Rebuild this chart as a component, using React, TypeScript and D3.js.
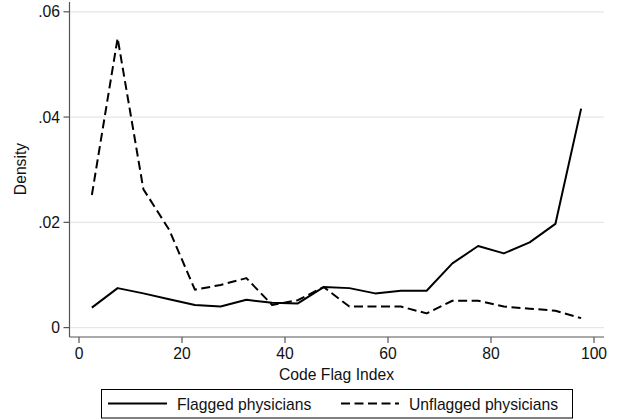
import React from "react";
import * as d3 from "d3";

const xValues = [2.5, 7.5, 12.5, 17.5, 22.5, 27.5, 32.5, 37.5, 42.5, 47.5, 52.5, 57.5, 62.5, 67.5, 72.5, 77.5, 82.5, 87.5, 92.5, 97.5];
const flagged = [0.0038, 0.0075, 0.0065, 0.0054, 0.0043, 0.004, 0.0053, 0.0047, 0.0046, 0.0077, 0.0075, 0.0065, 0.007, 0.007, 0.0122, 0.0155, 0.0141, 0.0162, 0.0197, 0.0416];
const unflagged = [0.0252, 0.055, 0.0263, 0.0186, 0.0072, 0.0081, 0.0094, 0.0043, 0.0052, 0.0077, 0.004, 0.004, 0.004, 0.0027, 0.0051, 0.0051, 0.004, 0.0036, 0.0032, 0.0018];
const xTicks = [0, 20, 40, 60, 80, 100];
const yTicks = [0, 0.02, 0.04, 0.06];
const yTickLabels = ["0", ".02", ".04", ".06"];
const seriesNames = ["Flagged physicians", "Unflagged physicians"];

const W = 620;
const H = 420;
const FONT = "'Liberation Sans', Arial, sans-serif";
const FS = 15.7;

export default function App() {
  const x = d3.scaleLinear().domain([0, 100]).range([79, 594]);
  const y = d3.scaleLinear().domain([0, 0.06]).range([327.6, 11.8]);
  const plotLeft = 69.5;
  const plotRight = 604;
  const plotBottom = 337;
  const plotTop = 2;

  const line = d3
    .line<number>()
    .x((_, i) => x(xValues[i]))
    .y((d) => y(d));

  return (
    <svg width={W} height={H} style={{ position: "absolute", left: 0, top: 0, background: "#fff" }} fontFamily={FONT}>
      <rect x={0} y={0} width={W} height={H} fill="#fff" />
      {yTicks.map((t) => (
        <line key={"g" + t} x1={plotLeft + 1} x2={plotRight} y1={y(t)} y2={y(t)} stroke="#e6e6e6" strokeWidth={1.2} />
      ))}
      <line x1={plotLeft} x2={plotLeft} y1={plotTop} y2={plotBottom} stroke="#555" strokeWidth={1.2} />
      <line x1={plotLeft} x2={plotRight} y1={plotBottom} y2={plotBottom} stroke="#555" strokeWidth={1.2} />
      {yTicks.map((t, i) => (
        <g key={"yt" + t}>
          <line x1={plotLeft - 6} x2={plotLeft} y1={y(t)} y2={y(t)} stroke="#555" strokeWidth={1.2} />
          <text x={60} y={y(t) + 5.5} textAnchor="end" fontSize={FS} fill="#111">
            {yTickLabels[i]}
          </text>
        </g>
      ))}
      {xTicks.map((t) => (
        <g key={"xt" + t}>
          <line x1={x(t)} x2={x(t)} y1={plotBottom} y2={plotBottom + 6} stroke="#555" strokeWidth={1.2} />
          <text x={x(t)} y={358.5} textAnchor="middle" fontSize={FS} fill="#111">
            {t}
          </text>
        </g>
      ))}
      <text x={336.5} y={380} textAnchor="middle" fontSize={FS} fill="#111">
        Code Flag Index
      </text>
      <text transform={`translate(26,169) rotate(-90)`} textAnchor="middle" fontSize={FS} fill="#111">
        Density
      </text>
      <path d={line(flagged) || ""} fill="none" stroke="#000" strokeWidth={2} strokeLinejoin="round" />
      <path d={line(unflagged) || ""} fill="none" stroke="#000" strokeWidth={2} strokeDasharray="9 4.5" strokeLinejoin="round" />
      <rect x={101.5} y={389.5} width={471} height={28.5} fill="#fff" stroke="#000" strokeWidth={1} />
      <line x1={108} x2={167} y1={403.5} y2={403.5} stroke="#000" strokeWidth={2} />
      <text x={177} y={409.5} fontSize={FS} fill="#111">
        {seriesNames[0]}
      </text>
      <line x1={341} x2={399} y1={403.5} y2={403.5} stroke="#000" strokeWidth={2} strokeDasharray="9 4.5" />
      <text x={409} y={409.5} fontSize={FS} fill="#111">
        {seriesNames[1]}
      </text>
    </svg>
  );
}
